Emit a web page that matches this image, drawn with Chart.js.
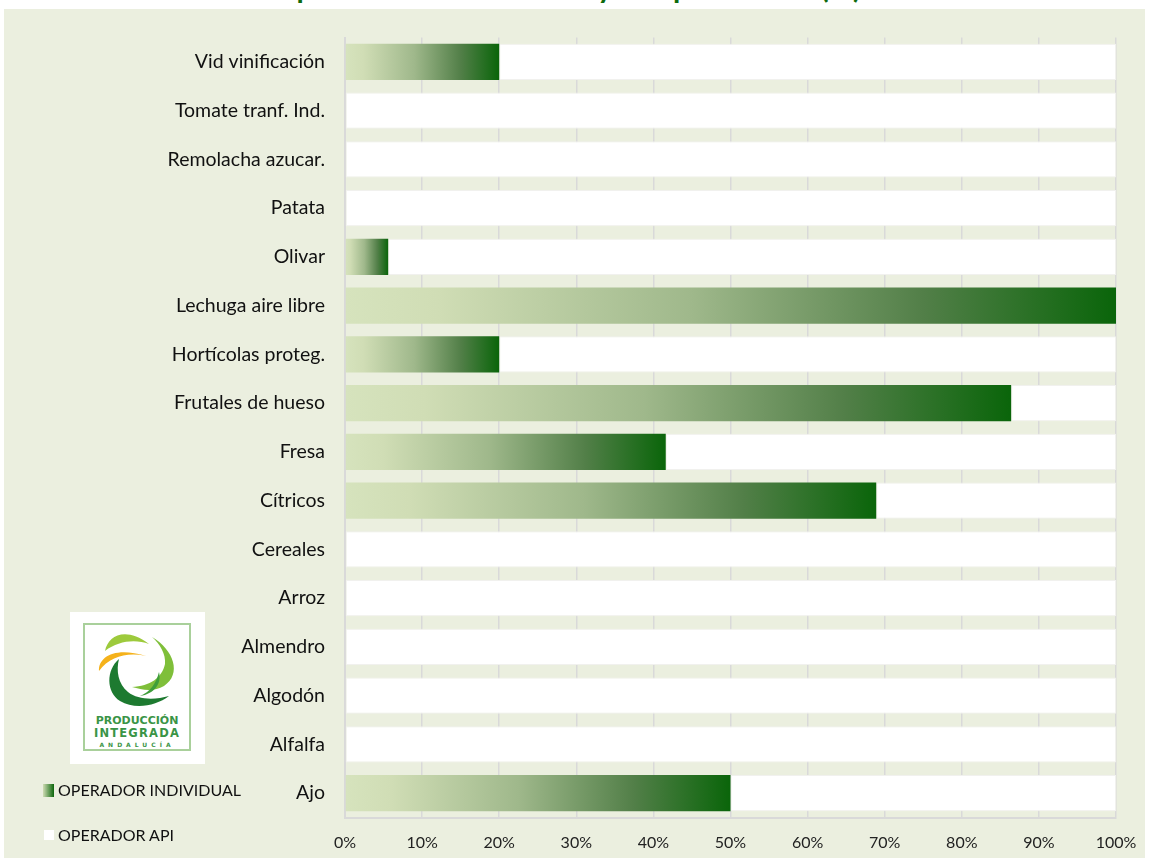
<!DOCTYPE html>
<html>
<head>
<meta charset="utf-8">
<script src="https://cdn.jsdelivr.net/npm/chart.js@4"></script>
<style>
  html, body { margin: 0; padding: 0; background: #ffffff; width: 1149px; height: 861px; overflow: hidden; }
  #title { position: absolute; left: -6px; top: -28px; width: 1146px; text-align: center; font: bold 29.5px Lato, sans-serif; line-height: 29px; color: #0d6a0d; white-space: nowrap; }
  #panel { position: absolute; left: 4px; top: 9px; width: 1141px; height: 849px; background: #ebefdf; }
  #wrap { position: absolute; left: 0; top: 0; width: 1141px; height: 849px; }
  .leg { position: absolute; font: 16px Lato, sans-serif; color: #111; white-space: nowrap; }
  .sw { position: absolute; }
  #logo { position: absolute; left: 66px; top: 603px; width: 135px; height: 152px; background: #ffffff; }
</style>
</head>
<body>
<div id="title">Operadores individuales y API por cultivo (%)</div>
<div id="panel">
  <div id="wrap"><canvas id="c" width="1141" height="849"></canvas></div>
  <div id="logo">
    <svg width="135" height="152" viewBox="0 0 135 152" xmlns="http://www.w3.org/2000/svg">
      <rect x="14" y="12" width="106" height="126" fill="#ffffff" stroke="#a9d09b" stroke-width="2"/>
      <path d="M35 39 C38 24 55 14 79 32 C65 27 48 29 35 39 Z" fill="#9dca3c"/>
      <path d="M29 59 C28 45 45 34 76 44 C58 40 40 44 29 59 Z" fill="#f5b21b"/>
      <path d="M82 25 C104 38 112 62 94 74 C84 80 72 78 62 75 C80 74 92 66 95 52 C96 42 90 32 82 25 Z" fill="#7fbf3a"/>
      <path d="M89 60 C92 72 84 82 70 84 C80 80 86 72 89 60 Z" fill="#3f9e3a"/>
      <path d="M49 47 C36 58 36 80 50 89 C65 98 86 94 99 84 C85 88 68 88 58 80 C48 72 46 58 49 47 Z" fill="#1d7a30"/>
      <text x="67" y="112" text-anchor="middle" font-family="DejaVu Sans, sans-serif" font-weight="bold" font-size="11" fill="#3a9446">PRODUCCIÓN</text>
      <text x="67" y="125" text-anchor="middle" font-family="DejaVu Sans, sans-serif" font-weight="bold" font-size="11.5" letter-spacing="1.2" fill="#3a9446">INTEGRADA</text>
      <text x="67" y="135" text-anchor="middle" font-family="DejaVu Sans, sans-serif" font-weight="bold" font-size="6" letter-spacing="4" fill="#3a9446">ANDALUCÍA</text>
    </svg>
  </div>
  <div class="sw" style="left:39px; top:775px; width:11px; height:13px; background:linear-gradient(to right,#cfdcb4,#0b660b);"></div>
  <div class="leg" style="left:54px; top:771px;">OPERADOR INDIVIDUAL</div>
  <div class="sw" style="left:40px; top:821px; width:10px; height:10px; background:#ffffff;"></div>
  <div class="leg" style="left:54px; top:816px;">OPERADOR API</div>
</div>
<script>
const categories = ["Vid vinificación", "Tomate tranf. Ind.", "Remolacha azucar.", "Patata", "Olivar", "Lechuga aire libre", "Hortícolas proteg.", "Frutales de hueso", "Fresa", "Cítricos", "Cereales", "Arroz", "Almendro", "Algodón", "Alfalfa", "Ajo"];
const operadorIndividual = [20, 0, 0, 0, 5.6, 100, 20, 86.4, 41.6, 68.9, 0, 0, 0, 0, 0, 50];
const operadorAPI = [80, 100, 100, 100, 94.4, 0, 80, 13.6, 58.4, 31.1, 100, 100, 100, 100, 100, 50];
const tickValues = [0, 10, 20, 30, 40, 50, 60, 70, 80, 90, 100];
const seriesNames = ["OPERADOR INDIVIDUAL", "OPERADOR API"];

function greenGradient(ctx) {
  const chart = ctx.chart;
  const area = chart.chartArea;
  if (!area || !chart.scales.x) return '#5a8a4a';
  const x0 = chart.scales.x.getPixelForValue(0);
  const x1 = chart.scales.x.getPixelForValue(ctx.raw || 0);
  if (x1 - x0 < 1) return '#0b660b';
  const g = chart.ctx.createLinearGradient(x0, 0, x1, 0);
  g.addColorStop(0, '#d6e3bd');
  g.addColorStop(0.12, '#d0ddb5');
  g.addColorStop(0.45, '#9fb88b');
  g.addColorStop(0.75, '#527f48');
  g.addColorStop(1, '#0a650a');
  return g;
}

new Chart(document.getElementById('c'), {
  type: 'bar',
  data: {
    labels: categories,
    datasets: [
      { label: seriesNames[0], data: operadorIndividual, backgroundColor: greenGradient, borderWidth: 0, barPercentage: 0.74, categoryPercentage: 1 },
      { label: seriesNames[1], data: operadorAPI, backgroundColor: '#ffffff', borderColor: '#f1f1ee', borderWidth: 1, borderSkipped: false, barPercentage: 0.74, categoryPercentage: 1 }
    ]
  },
  options: {
    indexAxis: 'y',
    responsive: false,
    animation: false,
    events: [],
    layout: { padding: { left: 0, top: 28.5, right: 29, bottom: 0 } },
    plugins: { legend: { display: false }, tooltip: { enabled: false }, title: { display: false } },
    scales: {
      x: {
        stacked: true,
        min: 0, max: 100,
        afterBuildTicks: (s) => { s.ticks = tickValues.map(v => ({ value: v })); },
        afterFit: (s) => { s.height = 40.5; s.paddingLeft = 0; s.paddingRight = 0; },
        grid: { color: '#d9d9d9', lineWidth: 1.5, drawTicks: false },
        border: { color: '#d9d9d9', width: 2 },
        ticks: { padding: 16, color: '#222', font: { family: 'Lato', size: 16 }, callback: (v) => v + '%', maxRotation: 0 }
      },
      y: {
        stacked: true,
        afterFit: (s) => { s.width = 341; s.paddingTop = 0; s.paddingBottom = 0; },
        grid: { display: false, drawTicks: false },
        border: { color: '#d9d9d9', width: 2 },
        ticks: { padding: 20, color: '#111', font: { family: 'Lato', size: 19.5 }, autoSkip: false }
      }
    }
  }
});
</script>
</body>
</html>
